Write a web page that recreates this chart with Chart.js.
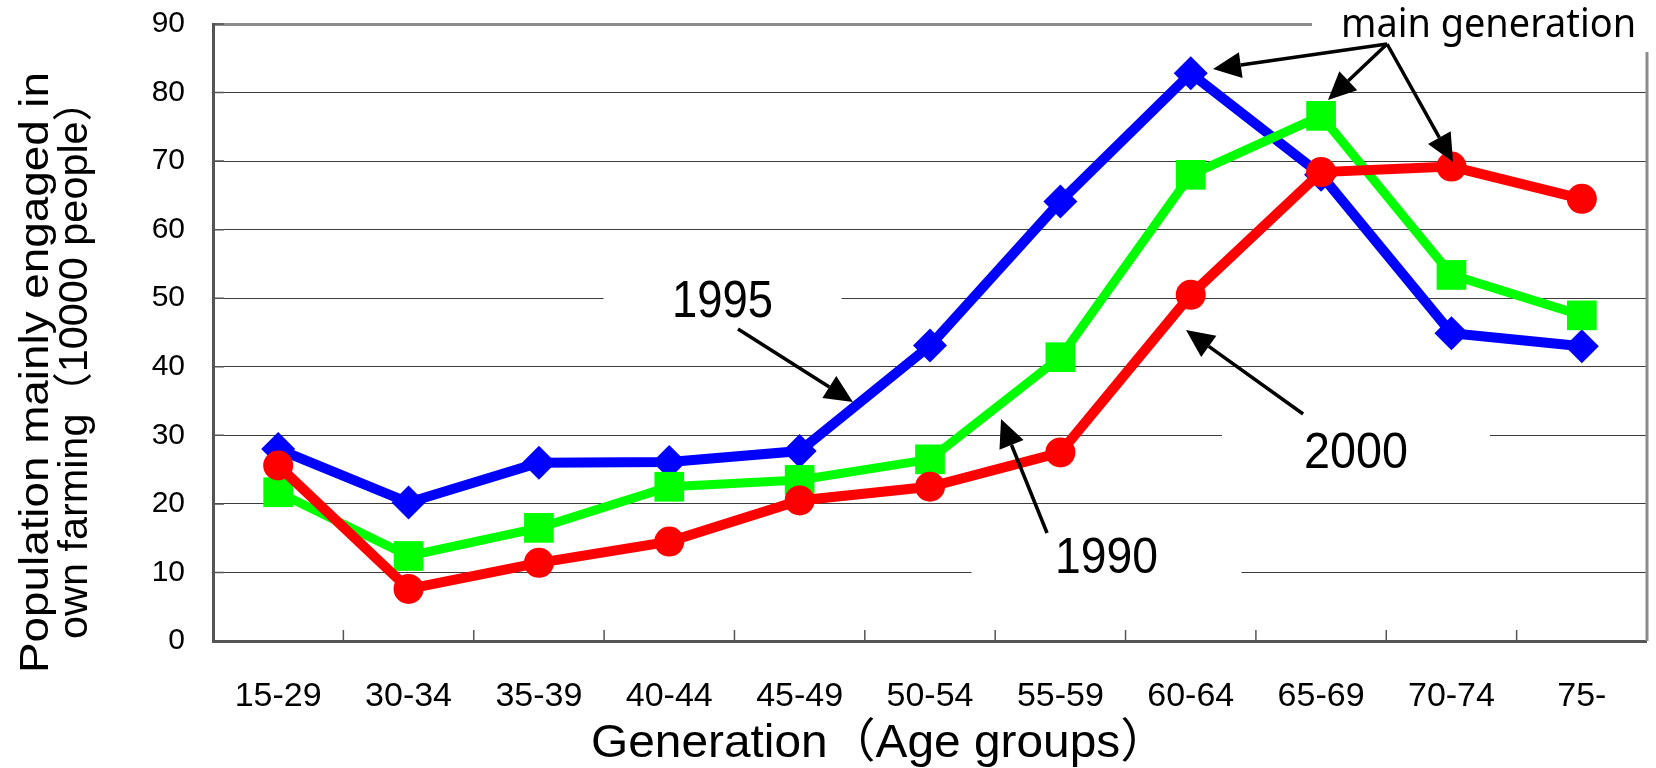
<!DOCTYPE html>
<html>
<head>
<meta charset="utf-8">
<script src="https://cdn.jsdelivr.net/npm/chart.js@4.4.1/dist/chart.umd.min.js"></script>
<style>
  html, body { margin: 0; padding: 0; background: #ffffff; }
  #wrap { width: 1656px; height: 768px; }
</style>
</head>
<body>
<div id="wrap"><canvas id="chart" width="1656" height="768"></canvas></div>
<script>
// Age groups on the horizontal axis
const ageGroups = ['15-29', '30-34', '35-39', '40-44', '45-49', '50-54', '55-59', '60-64', '65-69', '70-74', '75-'];

// Population mainly engaged in own farming, in units of 10000 people
const pop1990 = [21.7, 12.4, 16.5, 22.5, 23.5, 26.5, 41.4, 68.0, 76.6, 53.4, 47.5];
const pop1995 = [28.0, 20.2, 26.0, 26.1, 27.7, 43.1, 64.1, 82.8, 68.0, 44.9, 43.0];
const pop2000 = [25.6, 7.6, 11.4, 14.5, 20.5, 22.5, 27.5, 50.5, 68.4, 69.2, 64.5];

// Vertical axis range and step
const yMin = 0;
const yMax = 90;
const yStep = 10;

// Axis titles and call-out text
const yTitleLines = ['Population mainly engaged in', 'own farming（10000 people）'];
const xTitle = 'Generation（Age groups）';
const seriesNames = ['1990', '1995', '2000'];
const mainNote = 'main generation';

const BASE_FONT = "'Liberation Sans', Arial, 'Noto Sans CJK JP', sans-serif";

// Call-out labels, placed in data space (category index, value)
const calloutLabels = [
  { text: seriesNames[1], idx: 3.409, val: 47.26, width: 101, size: 51, boxHalf: 119 },
  { text: seriesNames[0], idx: 6.354, val: 9.92,  width: 103, size: 50, boxHalf: 135 },
  { text: seriesNames[2], idx: 8.268, val: 25.23, width: 104, size: 50, boxHalf: 134 }
];
const notePos = { idx: 8.153, val: 88.1, width: 295, boxPad: 29, boxBottom: 52 };

// Arrows from each call-out to its curve, in data space
const arrows = [
  { from: [3.527, 45.5],  to: [4.409, 34.86] },
  { from: [5.898, 15.75], to: [5.545, 32.38] },
  { from: [7.862, 33.11], to: [6.964, 45.36] },
  { from: [8.506, 87.08], to: [7.171, 83.43] },
  { from: [8.506, 87.08], to: [8.053, 78.91] },
  { from: [8.506, 87.08], to: [9.012, 69.87] }
];

function fitText(ctx, text, x, y, targetW, align) {
  const w = ctx.measureText(text).width;
  const s = targetW / w;
  ctx.save();
  ctx.translate(x, y);
  ctx.scale(s, 1);
  ctx.textAlign = align;
  ctx.fillText(text, 0, 0);
  ctx.restore();
}

function drawArrow(ctx, x1, y1, x2, y2) {
  const headLen = 28, headHalf = 13;
  const ang = Math.atan2(y2 - y1, x2 - x1);
  const bx = x2 - headLen * Math.cos(ang);
  const by = y2 - headLen * Math.sin(ang);
  ctx.beginPath();
  ctx.moveTo(x1, y1);
  ctx.lineTo(bx, by);
  ctx.stroke();
  ctx.beginPath();
  ctx.moveTo(x2, y2);
  ctx.lineTo(bx + headHalf * Math.sin(ang), by - headHalf * Math.cos(ang));
  ctx.lineTo(bx - headHalf * Math.sin(ang), by + headHalf * Math.cos(ang));
  ctx.closePath();
  ctx.fill();
}

// Frame pieces, inner tick marks and white label boxes under the curves
const framePlugin = {
  id: 'frame',
  beforeDatasetsDraw(chart) {
    const { ctx, chartArea: a, scales: { x, y } } = chart;
    ctx.save();
    // right border
    ctx.strokeStyle = '#8c8c8c';
    ctx.lineWidth = 3;
    ctx.beginPath();
    ctx.moveTo(a.right, a.top);
    ctx.lineTo(a.right, a.bottom);
    ctx.stroke();
    // inner tick marks
    ctx.strokeStyle = '#555555';
    ctx.lineWidth = 1.5;
    ctx.beginPath();
    for (let i = 1; i < ageGroups.length; i++) {
      const px = (x.getPixelForValue(i - 1) + x.getPixelForValue(i)) / 2;
      ctx.moveTo(px, a.bottom - 11);
      ctx.lineTo(px, a.bottom);
    }
    for (let v = yMin; v <= yMax; v += yStep) {
      const py = y.getPixelForValue(v);
      ctx.moveTo(a.left, py);
      ctx.lineTo(a.left + 11, py);
    }
    ctx.stroke();
    // white label boxes
    ctx.fillStyle = '#ffffff';
    calloutLabels.forEach(l => {
      const cx = x.getPixelForValue(l.idx);
      const by = y.getPixelForValue(l.val);
      const cy = by - l.size * 0.36;
      ctx.fillRect(cx - l.boxHalf, cy - 40, l.boxHalf * 2, 80);
    });
    const noteX = x.getPixelForValue(notePos.idx);
    ctx.fillRect(noteX - notePos.boxPad, 0, chart.width - noteX + notePos.boxPad, notePos.boxBottom);
    ctx.restore();
  },
  afterDatasetsDraw(chart) {
    const { ctx, scales: { x, y } } = chart;
    ctx.save();
    ctx.fillStyle = '#000000';
    ctx.textBaseline = 'alphabetic';
    calloutLabels.forEach(l => {
      ctx.font = l.size + 'px ' + BASE_FONT;
      fitText(ctx, l.text, x.getPixelForValue(l.idx), y.getPixelForValue(l.val), l.width, 'center');
    });
    ctx.font = "40px 'Noto Sans', 'Liberation Sans', sans-serif";
    fitText(ctx, mainNote, x.getPixelForValue(notePos.idx), y.getPixelForValue(notePos.val), notePos.width, 'left');
    ctx.strokeStyle = '#000000';
    ctx.lineWidth = 3.5;
    arrows.forEach(ar => {
      drawArrow(ctx,
        x.getPixelForValue(ar.from[0]), y.getPixelForValue(ar.from[1]),
        x.getPixelForValue(ar.to[0]), y.getPixelForValue(ar.to[1]));
    });
    ctx.restore();
  },
  afterDraw(chart) {
    const { ctx } = chart;
    ctx.save();
    ctx.fillStyle = '#000000';
    ctx.textBaseline = 'alphabetic';
    // horizontal axis title
    ctx.font = '47px ' + BASE_FONT;
    fitText(ctx, xTitle, 591, 757, 577, 'left');
    // vertical axis title, two lines, read bottom to top
    ctx.font = '40px ' + BASE_FONT;
    const lineBase = [48, 87];
    const lineStart = [673, 639];
    const lineLen = [601, 559];
    yTitleLines.forEach((t, i) => {
      ctx.save();
      ctx.translate(lineBase[i], lineStart[i]);
      ctx.rotate(-Math.PI / 2);
      fitText(ctx, t, 0, 0, lineLen[i], 'left');
      ctx.restore();
    });
    ctx.restore();
  }
};

const gridColor = c => c.tick.value === yMax ? '#8c8c8c' : (c.tick.value === yMin ? '#555555' : '#3c3c3c');
const gridWidth = c => (c.tick.value === yMax || c.tick.value === yMin) ? 3 : 1;

new Chart(document.getElementById('chart'), {
  type: 'line',
  data: {
    labels: ageGroups,
    datasets: [
      {
        label: seriesNames[2], data: pop2000,
        borderColor: '#ff0000', backgroundColor: '#ff0000', borderWidth: 10,
        pointStyle: 'circle', pointRadius: 15, pointBorderWidth: 0, pointHoverRadius: 15
      },
      {
        label: seriesNames[0], data: pop1990,
        borderColor: '#00ff00', backgroundColor: '#00ff00', borderWidth: 9,
        pointStyle: 'rect', pointRadius: 21, pointBorderWidth: 0, pointHoverRadius: 21
      },
      {
        label: seriesNames[1], data: pop1995,
        borderColor: '#0000ff', backgroundColor: '#0000ff', borderWidth: 10,
        pointStyle: 'rectRot', pointRadius: 17, pointBorderWidth: 0, pointHoverRadius: 17
      }
    ]
  },
  options: {
    responsive: false,
    animation: false,
    events: [],
    layout: { autoPadding: false, padding: { top: 24, right: 9, left: 0, bottom: 0 } },
    plugins: { legend: { display: false }, tooltip: { enabled: false }, title: { display: false } },
    elements: { line: { tension: 0, borderJoinStyle: 'miter', borderCapStyle: 'butt' } },
    scales: {
      x: {
        type: 'category',
        offset: true,
        grid: { display: false },
        border: { display: false },
        ticks: { color: '#000000', font: { family: BASE_FONT, size: 34 }, padding: 27, maxRotation: 0, autoSkip: false },
        afterFit: s => { s.height = 127; s.paddingLeft = 0; s.paddingRight = 0; }
      },
      y: {
        min: yMin, max: yMax,
        ticks: { stepSize: yStep, color: '#000000', font: { family: BASE_FONT, size: 30 }, padding: 28 },
        grid: { color: gridColor, lineWidth: gridWidth, drawTicks: false },
        border: { display: true, color: '#555555', width: 3 },
        afterFit: s => { s.width = 213; s.paddingTop = 0; s.paddingBottom = 0; }
      }
    }
  },
  plugins: [framePlugin]
});
</script>
</body>
</html>
